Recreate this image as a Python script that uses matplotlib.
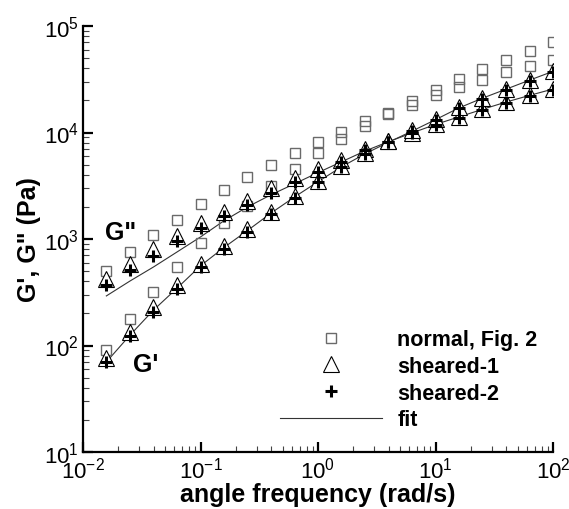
import numpy as np
import matplotlib
matplotlib.use('Agg')
import matplotlib.pyplot as plt
from matplotlib.ticker import LogLocator, FuncFormatter, NullFormatter

plt.rcParams['font.family'] = ['Liberation Sans', 'DejaVu Sans']
plt.rcParams['mathtext.fontset'] = 'custom'
plt.rcParams['mathtext.rm'] = 'Liberation Sans'
plt.rcParams['mathtext.it'] = 'Liberation Sans:italic'
plt.rcParams['mathtext.bf'] = 'Liberation Sans:bold'

# ---- data ----
freq = [0.0158, 0.0251, 0.0398, 0.0631, 0.1, 0.158, 0.251, 0.398, 0.631, 1.0,
        1.58, 2.51, 3.98, 6.31, 10, 15.8, 25.1, 39.8, 63.1, 100]

normal_Gp = [91, 177, 318, 546, 916, 1413, 2050, 3150, 4540, 6420,
             8700, 11600, 15000, 19800, 25100, 31800, 39400, 48000, 58200, 70800]
normal_Gpp = [500, 755, 1090, 1510, 2130, 2885, 3820, 4950, 6420, 8150,
              10100, 12800, 15300, 18100, 22500, 26700, 31100, 37000, 42100, 48000]

s1_Gpp = [421, 582, 805, 1067, 1413, 1795, 2275, 3010, 3740, 4540,
          5500, 7000, 8400, 10000, 12000, 14000, 16600, 19300, 22500, 25600]
s2_Gpp = [370, 512, 692, 957, 1268, 1645, 2085, 2700, 3430, 4250,
          5300, 6800, 8200, 9800, 11700, 13700, 16200, 18900, 22000, 25000]
s1_Gp = [76, 134, 230, 370, 582, 860, 1240, 1795, 2535, 3510,
         4800, 6400, 8300, 10500, 13400, 17300, 21100, 25600, 31100, 37800]
s2_Gp = [70, 123, 207, 340, 546, 805, 1163, 1718, 2426, 3430,
         4700, 6300, 8100, 10300, 13100, 16900, 20600, 25000, 30400, 37000]

fit_Gpp = [292, 403, 546, 755, 1045, 1480, 2000, 2600, 3300, 4200,
           5300, 6700, 8200, 9900, 11900, 14000, 16500, 19300, 22300, 25600]
fit_Gp = [70, 125, 215, 345, 560, 830, 1200, 1750, 2480, 3450,
          4750, 6300, 8100, 10300, 13200, 17000, 21000, 25500, 31000, 37500]

legend_labels = ['normal, Fig. 2', 'sheared-1', 'sheared-2', 'fit']

# ---- figure ----
fig = plt.figure(figsize=(5.69, 5.10), dpi=100)
ax = fig.add_axes([83/569, 57/510, 470/569, 426/510])

ax.plot(freq, fit_Gpp, '-', color='#333333', lw=0.8, zorder=2)
ax.plot(freq, fit_Gp, '-', color='#333333', lw=0.8, zorder=2, label=legend_labels[3])

sq = dict(marker='s', ls='none', ms=6.5, mfc='none', mec='#6a6a6a', mew=1.0, zorder=3)
ax.plot(freq, normal_Gpp, **sq)
ax.plot(freq, normal_Gp, label=legend_labels[0], **sq)

tri = dict(marker='^', ls='none', ms=11, mfc='white', mec='black', mew=0.8, zorder=4)
ax.plot(freq, s1_Gpp, **tri)
ax.plot(freq, s1_Gp, label=legend_labels[1], **tri)

pl = dict(marker='+', ls='none', ms=9, mec='black', mew=2.2, zorder=5)
ax.plot(freq, s2_Gpp, **pl)
ax.plot(freq, s2_Gp, label=legend_labels[2], **pl)

ax.set_xscale('log')
ax.set_yscale('log')
ax.set_xlim(1e-2, 1e2)
ax.set_ylim(1e1, 1e5)

fmt = FuncFormatter(lambda v, p: r'$\mathregular{10^{%d}}$' % int(round(np.log10(v))))
ax.xaxis.set_major_locator(LogLocator(base=10, numticks=10))
ax.yaxis.set_major_locator(LogLocator(base=10, numticks=10))
ax.xaxis.set_minor_locator(LogLocator(base=10, subs=np.arange(2, 10), numticks=20))
ax.yaxis.set_minor_locator(LogLocator(base=10, subs=np.arange(2, 10), numticks=20))
ax.xaxis.set_major_formatter(fmt)
ax.yaxis.set_major_formatter(fmt)
ax.xaxis.set_minor_formatter(NullFormatter())
ax.yaxis.set_minor_formatter(NullFormatter())

for s in ['top', 'right']:
    ax.spines[s].set_visible(False)
for s in ['left', 'bottom']:
    ax.spines[s].set_linewidth(1.6)

ax.tick_params(which='major', direction='in', length=7, width=1.6, labelsize=16, pad=3)
ax.tick_params(which='minor', direction='in', length=4, width=0.8, color='#444444')

ax.set_xlabel('angle frequency (rad/s)', fontsize=18, fontweight='bold', labelpad=0)
ax.set_ylabel('G\', G" (Pa)', fontsize=18, fontweight='bold', labelpad=2)

ax.text(0.0154, 1163, 'G"', fontsize=18, fontweight='bold', ha='left', va='center')
ax.text(0.0267, 67, "G'", fontsize=18, fontweight='bold', ha='left', va='center')

handles, labels = ax.get_legend_handles_labels()
order = [labels.index(l) for l in legend_labels]
leg = ax.legend([handles[i] for i in order], [labels[i] for i in order],
                loc='upper left', bbox_to_anchor=(0.419, 0.288), frameon=False,
                prop={'weight': 'bold', 'size': 15.5}, handlelength=4.75,
                handletextpad=0.7, labelspacing=0.26, borderpad=0, borderaxespad=0)

fig.savefig('out.png', dpi=100)
